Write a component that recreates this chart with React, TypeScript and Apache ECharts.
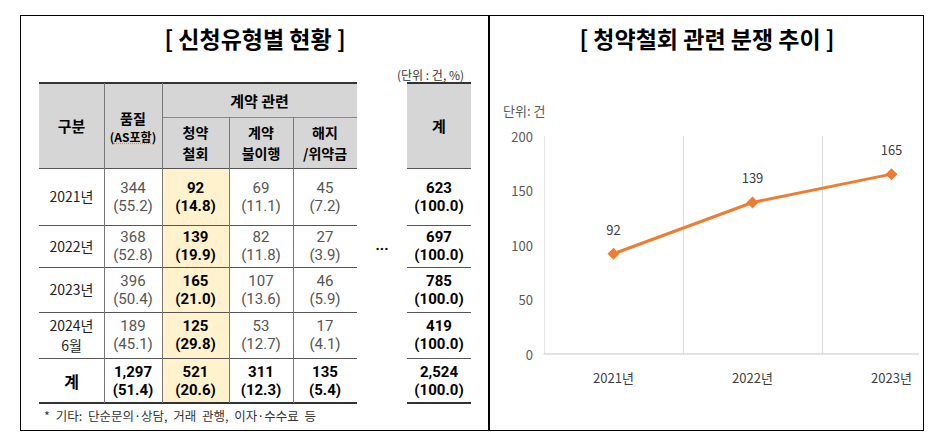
import React, { useEffect, useRef } from "react";
import * as echarts from "echarts";

// ---------- Table data ----------
const rowLabels = ["2021년", "2022년", "2023년", "2024년\n6월"];
const qualityVals = ["344", "368", "396", "189"];
const qualityPct = ["55.2", "52.8", "50.4", "45.1"];
const withdrawVals = ["92", "139", "165", "125"];
const withdrawPct = ["14.8", "19.9", "21.0", "29.8"];
const nonPerfVals = ["69", "82", "107", "53"];
const nonPerfPct = ["11.1", "11.8", "13.6", "12.7"];
const termVals = ["45", "27", "46", "17"];
const termPct = ["7.2", "3.9", "5.9", "4.1"];
const totalVals = ["623", "697", "785", "419"];
const totalPct = ["100.0", "100.0", "100.0", "100.0"];
const sumLabel = "계";
const sumVals = ["1,297", "521", "311", "135", "2,524"];
const sumPct = ["51.4", "20.6", "12.3", "5.4", "100.0"];

// ---------- Chart data ----------
const chartYears = ["2021년", "2022년", "2023년"];
const chartValues = [92, 139, 165];
const yTicks = { min: 0, max: 200, interval: 50 };

const FONT = '"Noto Sans CJK KR", "Noto Sans", sans-serif';
const NUMFONT = 'Roboto, "Liberation Sans", sans-serif';

const colX = [39, 104, 162, 229, 293, 357];
const totX = [407, 471];
const rowY = [168, 225, 267, 312, 358, 403];

function Box(props: {
  x0: number; x1: number; y0: number; y1: number;
  children?: React.ReactNode; style?: React.CSSProperties;
}) {
  const { x0, x1, y0, y1, children, style } = props;
  return (
    <div
      style={{
        position: "absolute", left: x0, top: y0, width: x1 - x0, height: y1 - y0,
        display: "flex", flexDirection: "column", alignItems: "center", justifyContent: "center",
        textAlign: "center", whiteSpace: "pre-line", ...style,
      }}
    >
      {children}
    </div>
  );
}

function HLine(p: { x0: number; x1: number; y: number; w?: number; c?: string }) {
  const w = p.w ?? 1;
  return (
    <div style={{ position: "absolute", left: p.x0, top: p.y - w / 2, width: p.x1 - p.x0, height: w, background: p.c ?? "#666" }} />
  );
}
function VLine(p: { y0: number; y1: number; x: number; w?: number; c?: string }) {
  const w = p.w ?? 1;
  return (
    <div style={{ position: "absolute", left: p.x - w / 2, top: p.y0, width: w, height: p.y1 - p.y0, background: p.c ?? "#777" }} />
  );
}

function ValCell(p: { x0: number; x1: number; y0: number; y1: number; v: string; pct: string; bold?: boolean }) {
  return (
    <Box x0={p.x0} x1={p.x1} y0={p.y0} y1={p.y1}
      style={{ fontFamily: NUMFONT, fontSize: 15, lineHeight: "18px", color: p.bold ? "#000" : "#555", fontWeight: p.bold ? 700 : 400 }}>
      <div>{p.v}</div>
      <div>({p.pct})</div>
    </Box>
  );
}

function Table() {
  const headBg = "#d6d6d6";
  const cols = [
    { v: qualityVals, p: qualityPct, bold: false },
    { v: withdrawVals, p: withdrawPct, bold: true },
    { v: nonPerfVals, p: nonPerfPct, bold: false },
    { v: termVals, p: termPct, bold: false },
  ];
  const hd: React.CSSProperties = { fontSize: 15, fontWeight: 700 };
  const hd2: React.CSSProperties = { fontSize: 14, fontWeight: 700, lineHeight: "20.5px", whiteSpace: "pre" };
  return (
    <>
      {/* title */}
      <Box x0={40} x1={470} y0={23} y1={53} style={{ fontSize: 23, fontWeight: 700, color: "#000", whiteSpace: "nowrap" }}>
        [ 신청유형별 현황 ]
      </Box>
      <div style={{ position: "absolute", left: 397, top: 66, width: 80, fontSize: 12, color: "#333", whiteSpace: "nowrap" }}>
        (단위 : 건, %)
      </div>
      {/* header backgrounds */}
      <div style={{ position: "absolute", left: colX[0], top: 83, width: colX[5] - colX[0], height: rowY[0] - 83, background: headBg }} />
      <div style={{ position: "absolute", left: totX[0], top: 83, width: totX[1] - totX[0], height: rowY[0] - 83, background: headBg }} />
      {/* highlight column */}
      <div style={{ position: "absolute", left: colX[2], top: rowY[0], width: colX[3] - colX[2], height: rowY[5] - rowY[0], background: "#fff2cc" }} />

      {/* lines */}
      <HLine x0={colX[0]} x1={colX[5]} y={83} w={2.5} c="#333" />
      <HLine x0={totX[0]} x1={totX[1]} y={83} w={2.5} c="#333" />
      <HLine x0={colX[2]} x1={colX[5]} y={117} c="#888" />
      {rowY.slice(0, 5).map((y, i) => (
        <React.Fragment key={i}>
          <HLine x0={colX[0]} x1={colX[5]} y={y} c="#555" />
          <HLine x0={totX[0]} x1={totX[1]} y={y} c="#555" />
        </React.Fragment>
      ))}
      <HLine x0={colX[0]} x1={colX[5]} y={403} w={2.5} c="#333" />
      <HLine x0={totX[0]} x1={totX[1]} y={403} w={2.5} c="#333" />
      <VLine x={colX[1]} y0={83} y1={403} />
      <VLine x={colX[2]} y0={83} y1={403} />
      <VLine x={colX[3]} y0={117} y1={403} />
      <VLine x={colX[4]} y0={117} y1={403} />

      {/* header texts */}
      <Box x0={colX[0]} x1={colX[1]} y0={83} y1={168} style={hd}>구분</Box>
      <Box x0={colX[1]} x1={colX[2]} y0={83} y1={170} style={{ fontWeight: 700 }}>
        <div style={{ fontSize: 14, lineHeight: "20px" }}>품질</div>
        <div style={{ fontSize: 12, lineHeight: "18px", whiteSpace: "nowrap" }}>
          (<span style={{ textDecoration: "underline dotted #e8893a" }}>AS포함</span>)
        </div>
      </Box>
      <Box x0={colX[2]} x1={colX[5]} y0={83} y1={117} style={hd}>계약 관련</Box>
      <Box x0={colX[2]} x1={colX[3]} y0={117} y1={168} style={hd2}>{"청약\n철회"}</Box>
      <Box x0={colX[3]} x1={colX[4]} y0={117} y1={168} style={hd2}>{"계약\n불이행"}</Box>
      <Box x0={colX[4]} x1={colX[5]} y0={117} y1={168} style={hd2}>{"해지\n/위약금"}</Box>
      <Box x0={totX[0]} x1={totX[1]} y0={83} y1={168} style={hd}>계</Box>

      {/* body */}
      {rowLabels.map((lab, r) => (
        <React.Fragment key={r}>
          <Box x0={colX[0]} x1={colX[1]} y0={rowY[r]} y1={rowY[r + 1]} style={{ fontSize: 14, lineHeight: "20.5px", color: "#222" }}>{lab}</Box>
          {cols.map((c, ci) => (
            <ValCell key={ci} x0={colX[ci + 1]} x1={colX[ci + 2]} y0={rowY[r]} y1={rowY[r + 1]} v={c.v[r]} pct={c.p[r]} bold={c.bold} />
          ))}
          <ValCell x0={totX[0]} x1={totX[1]} y0={rowY[r]} y1={rowY[r + 1]} v={totalVals[r]} pct={totalPct[r]} bold />
        </React.Fragment>
      ))}
      {/* sum row */}
      <Box x0={colX[0]} x1={colX[1]} y0={rowY[4]} y1={rowY[5]} style={{ fontSize: 16, fontWeight: 700 }}>{sumLabel}</Box>
      {sumVals.slice(0, 4).map((v, ci) => (
        <ValCell key={ci} x0={colX[ci + 1]} x1={colX[ci + 2]} y0={rowY[4]} y1={rowY[5]} v={v} pct={sumPct[ci]} bold />
      ))}
      <ValCell x0={totX[0]} x1={totX[1]} y0={rowY[4]} y1={rowY[5]} v={sumVals[4]} pct={sumPct[4]} bold />

      <Box x0={370} x1={394} y0={236} y1={254} style={{ fontFamily: NUMFONT, fontSize: 15, fontWeight: 700, lineHeight: "15px" }}>...</Box>

      <div style={{ position: "absolute", left: 44, top: 406, fontSize: 12.5, color: "#333", whiteSpace: "nowrap", wordSpacing: 3 }}>
        * 기타: 단순문의·상담, 거래 관행, 이자·수수료 등
      </div>
    </>
  );
}

function LineChart() {
  const ref = useRef<HTMLDivElement>(null);
  useEffect(() => {
    if (!ref.current) return;
    const chart = echarts.init(ref.current, null, { renderer: "svg" });
    chart.setOption({
      animation: false,
      textStyle: { fontFamily: FONT },
      graphic: [
        {
          type: "text", x: 218, y: 22,
          style: { text: "[ 청약철회 관련 분쟁 추이 ]", font: `700 23px ${FONT}`, fill: "#000", align: "center", verticalAlign: "middle" },
        },
        {
          type: "text", x: 14, y: 94,
          style: { text: "단위: 건", font: `400 13px ${FONT}`, fill: "#595959", verticalAlign: "middle" },
        },
      ],
      grid: { left: 55, top: 120, width: 417, height: 218 },
      xAxis: {
        type: "category",
        data: chartYears,
        boundaryGap: true,
        axisLine: { lineStyle: { color: "#d9d9d9", width: 1.5 } },
        axisTick: { show: false },
        axisLabel: { color: "#404040", fontSize: 13, margin: 17 },
        splitLine: { show: true, lineStyle: { color: "#d9d9d9", width: 1 } },
      },
      yAxis: {
        type: "value",
        min: yTicks.min, max: yTicks.max, interval: yTicks.interval,
        axisLine: { show: true, lineStyle: { color: "#e6e6e6", width: 1 } },
        axisTick: { show: false },
        splitLine: { show: false },
        axisLabel: { color: "#595959", fontSize: 13, margin: 11 },
      },
      series: [
        {
          type: "line",
          data: chartValues,
          symbol: "diamond",
          symbolSize: 12,
          lineStyle: { color: "#ED7D31", width: 3 },
          itemStyle: { color: "#ED7D31" },
          label: { show: true, position: "top", distance: 12, color: "#404040", fontSize: 13 },
        },
      ],
    });
    return () => chart.dispose();
  }, []);
  return (
    <div style={{ position: "absolute", left: 489, top: 16, width: 430, height: 414, overflow: "hidden" }}>
      <div ref={ref} style={{ position: "absolute", left: 0, top: 0, width: 520, height: 414 }} />
    </div>
  );
}

export default function App() {
  return (
    <div style={{ position: "fixed", left: 0, top: 0, width: 938, height: 444, background: "#fff", fontFamily: FONT, color: "#000", overflow: "hidden" }}>
      <Table />
      <LineChart />
      {/* frame */}
      <div style={{ position: "absolute", left: 20, top: 15, width: 904, height: 416, border: "1.5px solid #000", boxSizing: "border-box", pointerEvents: "none" }} />
      <div style={{ position: "absolute", left: 488, top: 15, width: 1.5, height: 416, background: "#000" }} />
    </div>
  );
}
